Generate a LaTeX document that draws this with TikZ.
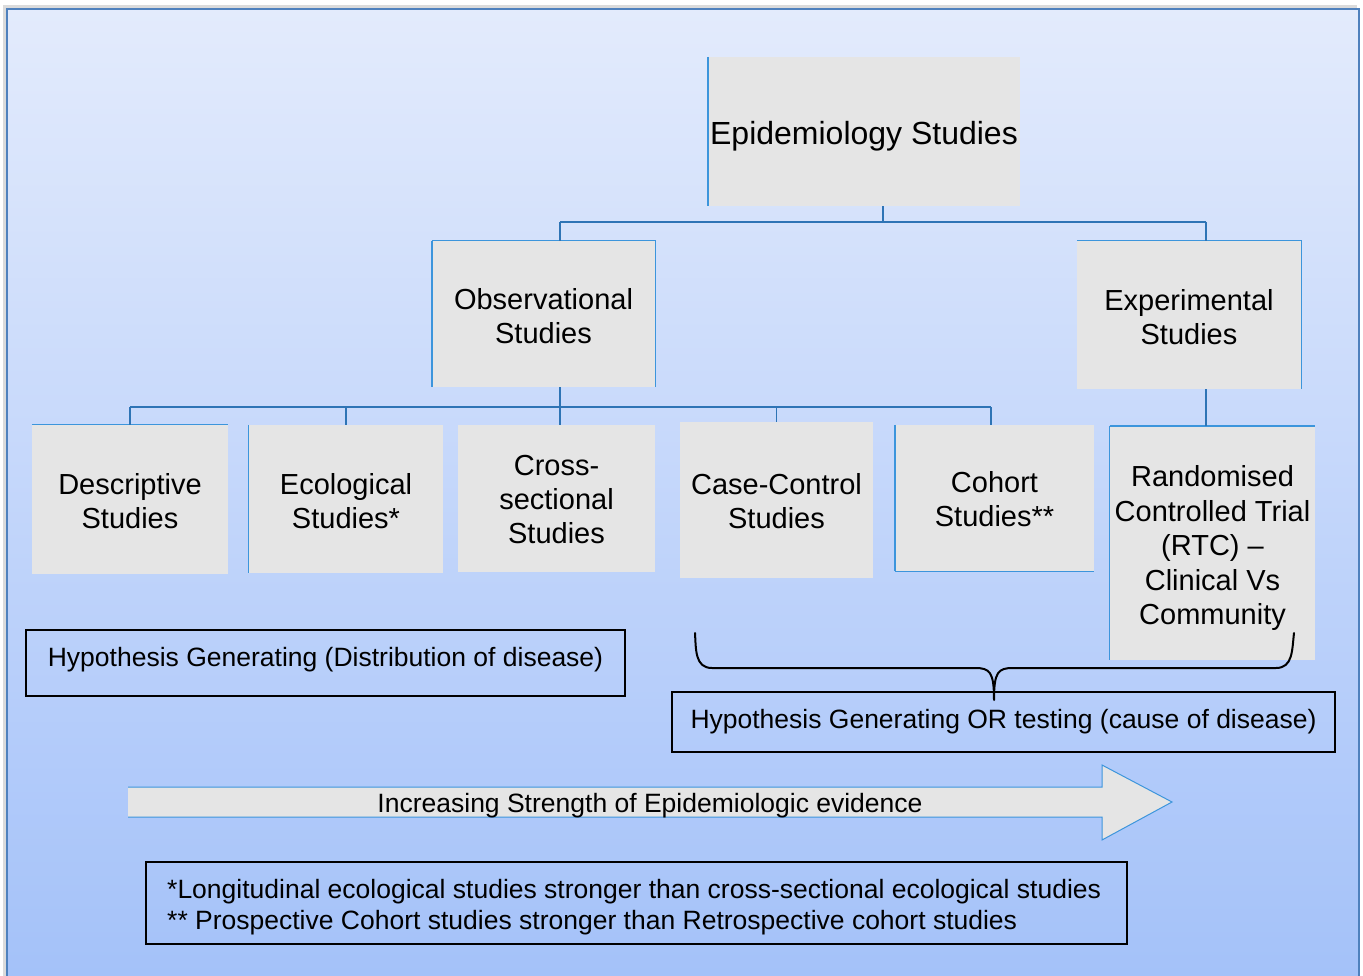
\documentclass[tikz,border=0pt]{standalone}
\usepackage{fontspec}
\setmainfont{Liberation Sans}
\begin{document}
\begin{tikzpicture}[x=1pt,y=-1pt,
  studybox/.style={fill=boxgray, draw=none, inner sep=0pt},
  studytext/.style={align=center, inner sep=0pt, font=\fontsize{29}{34}\selectfont},
  tree/.style={draw=treeblue, line width=1.5pt},
  edgehi/.style={draw=edgeblue, line width=1pt},
  edgethick/.style={draw=edgeblue, line width=2.2pt},
  notebox/.style={draw=black, line width=1.2pt, inner sep=0pt},
  notetext/.style={inner sep=0pt, font=\fontsize{26.5}{31}\selectfont},
]
\definecolor{boxgray}{HTML}{E5E5E5}
\definecolor{treeblue}{HTML}{2E74B5}
\definecolor{edgeblue}{HTML}{3C95DC}
\definecolor{frameblue}{HTML}{4F81BD}
\definecolor{bgtop}{HTML}{E3EBFC}
\definecolor{bgbot}{HTML}{A3C1F9}

\useasboundingbox (0,0) rectangle (1363,976);
\fill[white] (0,0) rectangle (1363,976);
% soft shadow and frame with gradient fill
\fill[black!14] (3,5) rectangle (1357,990);
\shade[top color=bgtop, bottom color=bgbot] (7,9) rectangle (1359,990);
\draw[frameblue, line width=2pt] (7,990) -- (7,9) -- (1359,9) -- (1359,990);

% top level
\node[studybox, minimum width=312, minimum height=149] (epi) at (864,131.5) {};
\node[studytext, font=\fontsize{32}{36}\selectfont] (epiT) at (864,136.5) {Epidemiology Studies};
\draw[edgethick] (epi.north west) -- (epi.south west);

% second level
\node[studybox, minimum width=223, minimum height=146] (obs) at (543.5,314) {};
\node[studytext] (obsT) at (543.5,316) {Observational\\Studies};
\draw[edgethick] (obs.north west) -- (obs.south west);
\draw[edgehi] (obs.north west) -- (obs.north east) -- (obs.south east);

\node[studybox, minimum width=224, minimum height=148] (exp) at (1189,315) {};
\node[studytext] (expT) at (1189,317) {Experimental\\Studies};
\draw[edgehi] (exp.north west) -- (exp.north east) -- (exp.south east);

% third level
\node[studybox, minimum width=196, minimum height=149] (desc) at (130,499.5) {};
\node[studytext] (descT) at (130,501.5) {Descriptive\\Studies};
\draw[edgehi] (desc.north west) -- (desc.north east);

\node[studybox, minimum width=194, minimum height=148] (eco) at (346,499) {};
\node[studytext] (ecoT) at (346,501.5) {Ecological\\Studies*};
\draw[edgehi] (eco.north west) -- (eco.south west);

\node[studybox, minimum width=197, minimum height=147] (cross) at (556.5,498.5) {};
\node[studytext] (crossT) at (556.5,500) {Cross-\\sectional\\Studies};

\node[studybox, minimum width=193, minimum height=156] (cc) at (776.5,500) {};
\node[studytext] (ccT) at (776.5,501) {Case-Control\\Studies};

\node[studybox, minimum width=199, minimum height=146] (coh) at (994.5,498) {};
\node[studytext] (cohT) at (994.5,499) {Cohort\\Studies**};
\draw[edgethick] (coh.north west) -- (coh.south west);
\draw[edgehi] (coh.south west) -- (coh.south east);

\node[studybox, minimum width=205, minimum height=234] (rct) at (1212.5,543) {};
\node[studytext, font=\fontsize{29}{34.5}\selectfont] (rctT) at (1212.5,548)
  {Randomised\\Controlled Trial\\(RTC) --\\Clinical Vs\\Community};
\draw[edgethick] (rct.north west) -- (rct.north east);
\draw[edgehi] (rct.north west) -- (rct.south west);

% tree connectors
\coordinate (bus1) at (0,222);
\coordinate (bus2) at (0,407);
\draw[tree] ([xshift=19]epi.south) -- ([xshift=19]epi.south |- bus1);
\draw[tree] ([xshift=16.5]obs.north |- bus1) -- ([xshift=17]exp.north |- bus1);
\draw[tree] ([xshift=16.5]obs.north |- bus1) -- ([xshift=16.5]obs.north);
\draw[tree] ([xshift=17]exp.north |- bus1) -- ([xshift=17]exp.north);

\draw[tree] ([xshift=16.5]obs.south) -- ([xshift=16.5]obs.south |- bus2);
\draw[tree] (desc.north |- bus2) -- ([xshift=-3.5]coh.north |- bus2);
\draw[tree] (desc.north |- bus2) -- (desc.north);
\draw[tree] (eco.north |- bus2) -- (eco.north);
\draw[tree] ([xshift=3.5]cross.north |- bus2) -- ([xshift=3.5]cross.north);
\draw[tree] (cc.north |- bus2) -- (cc.north);
\draw[tree] ([xshift=-3.5]coh.north |- bus2) -- ([xshift=-3.5]coh.north);
\draw[tree] ([xshift=17]exp.south) -- ([xshift=17]exp.south |- rct.north);

% hypothesis boxes
\node[notebox, minimum width=599, minimum height=66] (hypgen) at (325.5,663) {};
\node[notetext] (hypgenT) at (325.5,660) {Hypothesis Generating (Distribution of disease)};
\node[notebox, minimum width=663, minimum height=60] (hyptest) at (1003.5,722) {};
\node[notetext] (hyptestT) at (1003.5,722) {Hypothesis Generating OR testing (cause of disease)};

% brace grouping the analytic designs
\coordinate (brL) at (695,633);
\coordinate (brR) at (1294,633);
\coordinate (brTip) at (994,700);
\draw[black, line width=2pt, line cap=round, line join=round]
  (brL) .. controls (696,650) and (695,668) .. (712,668)
  -- (975,668) .. controls (990,668) and (994,672) .. (brTip)
  (brTip) .. controls (994,672) and (998,668) .. (1013,668)
  -- (1276,668) .. controls (1293,668) and (1292,650) .. (brR);

% evidence arrow
\draw[fill=boxgray, draw=edgeblue, line width=1pt]
  (128,787) -- (1102,787) -- (1102,765) -- (1172,802) -- (1102,840)
  -- (1102,817) -- (128,817);
\node[notetext] (evid) at (650,806) {Increasing Strength of Epidemiologic evidence};

% footnotes
\node[notebox, minimum width=981, minimum height=82] (notes) at (636.5,903) {};
\node[notetext, anchor=west, align=left] (notesT) at (167,907)
  {*Longitudinal ecological studies stronger than cross-sectional ecological studies\\{}** Prospective Cohort studies stronger than Retrospective cohort studies};
\end{tikzpicture}
\end{document}
